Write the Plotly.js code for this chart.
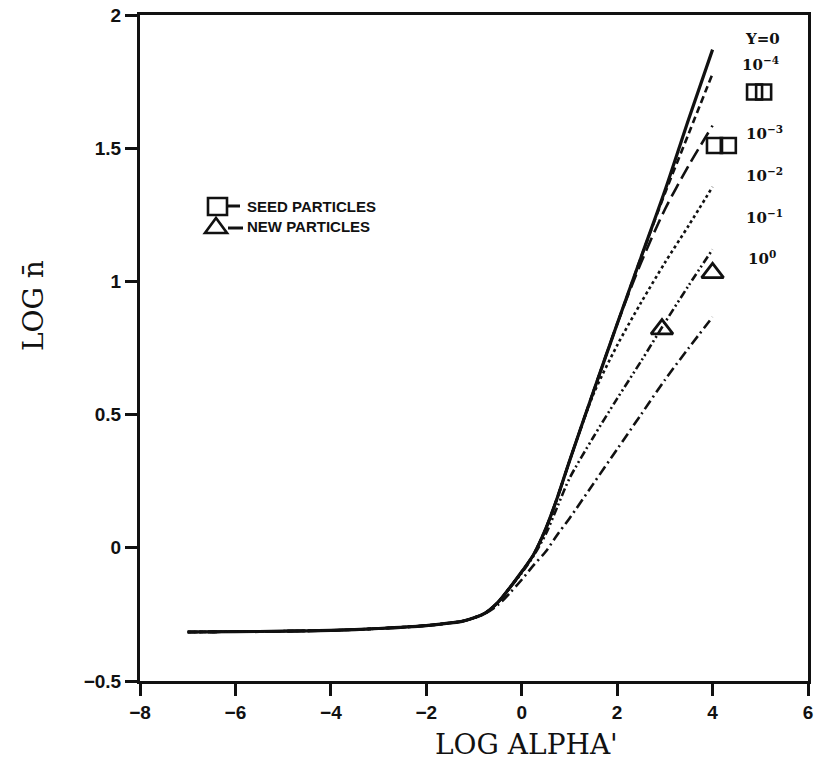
<!DOCTYPE html>
<html>
<head>
<meta charset="utf-8">
<script src="https://cdn.plot.ly/plotly-3.0.1.min.js"></script>
<style>
  html, body { margin: 0; padding: 0; background: #ffffff; }
  #chart { width: 816px; height: 767px; }
</style>
</head>
<body>
<div id="chart"></div>
<script>
// log(alpha') grid shared by every curve
const logAlpha = [-7, -6, -5, -4, -3, -2, -1.5, -1.25, -1, -0.75, -0.5, -0.25, 0, 0.25, 0.5, 0.75, 1, 1.5, 2, 2.5, 3, 3.5, 4];

// log(n-bar) for each Y value
const nY0    = [-0.316, -0.315, -0.313, -0.31, -0.303, -0.292, -0.282, -0.276, -0.263, -0.243, -0.205, -0.15, -0.09, -0.025, 0.07, 0.19, 0.325, 0.585, 0.84, 1.09, 1.34, 1.61, 1.87];
const nY1e4  = [-0.316, -0.315, -0.313, -0.31, -0.303, -0.292, -0.282, -0.276, -0.263, -0.243, -0.205, -0.15, -0.09, -0.025, 0.07, 0.19, 0.325, 0.585, 0.84, 1.09, 1.33, 1.555, 1.78];
const nY1e3  = [-0.316, -0.315, -0.313, -0.31, -0.303, -0.292, -0.282, -0.276, -0.263, -0.243, -0.205, -0.15, -0.09, -0.025, 0.07, 0.19, 0.325, 0.585, 0.84, 1.07, 1.27, 1.435, 1.585];
const nY1e2  = [-0.316, -0.315, -0.313, -0.31, -0.303, -0.292, -0.282, -0.276, -0.263, -0.243, -0.205, -0.15, -0.09, -0.025, 0.07, 0.19, 0.325, 0.575, 0.76, 0.92, 1.07, 1.21, 1.355];
const nY1e1  = [-0.316, -0.315, -0.313, -0.31, -0.303, -0.292, -0.282, -0.276, -0.263, -0.243, -0.205, -0.15, -0.095, -0.03, 0.05, 0.155, 0.26, 0.415, 0.56, 0.70, 0.845, 0.985, 1.12];
const nY1e0  = [-0.316, -0.315, -0.313, -0.31, -0.303, -0.292, -0.282, -0.276, -0.263, -0.245, -0.215, -0.17, -0.12, -0.065, -0.015, 0.05, 0.11, 0.24, 0.37, 0.50, 0.63, 0.75, 0.866];

// measured points
const seedX = [4.04, 4.33, 4.88, 5.07];
const seedY = [1.51, 1.51, 1.711, 1.711];
const newX  = [2.94, 4.0];
const newY  = [0.821, 1.032];

// curve labels on the right
const yLabels = ['Y=0', '10<sup>−4</sup>', '10<sup>−3</sup>', '10<sup>−2</sup>', '10<sup>−1</sup>', '10<sup>0</sup>'];

const xTicks = [-8, -6, -4, -2, 0, 2, 4, 6];
const yTicks = [-0.5, 0, 0.5, 1, 1.5, 2];
const tickText = v => String(v).replace('-', '\u2212');

// plot area geometry in pixels
const L = 140, R = 8, T = 15, B = 86, W = 816, H = 767;
const PW = W - L - R, PH = H - T - B;
const px = v => (v - L) / PW;
const py = v => 1 - (v - T) / PH;

function curve(y, dash, width) {
  return {
    x: logAlpha, y: y, type: 'scatter', mode: 'lines',
    line: { color: '#111', width: width, dash: dash, shape: 'spline', smoothing: 0.8 },
    hoverinfo: 'skip', showlegend: false
  };
}

const traces = [
  curve(nY0, 'solid', 3.2),
  curve(nY1e4, '7px,4px', 2.6),
  curve(nY1e3, '14px,6px', 2.6),
  curve(nY1e2, '3px,3px', 2.6),
  curve(nY1e1, '8px,3px,2px,3px,2px,3px', 2.6),
  curve(nY1e0, '10px,4px,2px,4px', 2.6),
  {
    x: seedX, y: seedY, type: 'scatter', mode: 'markers', showlegend: false, hoverinfo: 'skip',
    marker: { symbol: 'square-open', size: 15, color: '#111', line: { width: 2.6, color: '#111' } }
  },
  {
    x: newX, y: newY, type: 'scatter', mode: 'markers', showlegend: false, hoverinfo: 'skip',
    marker: { symbol: 'triangle-up-open', size: 19, color: '#111', line: { width: 2.8, color: '#111' } }
  }
];

const labelFont = { family: 'DejaVu Serif', size: 15, color: '#111', weight: 'bold' };
const keyFont = { family: 'Liberation Sans', size: 15, color: '#111', weight: 'bold' };
const titleFont = { family: 'DejaVu Serif', size: 28, color: '#111' };

const labelPos = [[762, 39], [760, 64], [764, 133], [764, 175], [764, 217], [762, 258]];
const annotations = yLabels.map((t, i) => ({
  text: t, xref: 'paper', yref: 'paper', x: px(labelPos[i][0]), y: py(labelPos[i][1]),
  xanchor: 'center', yanchor: 'middle', showarrow: false, font: labelFont
}));

// key text
annotations.push(
  { text: 'SEED PARTICLES', xref: 'paper', yref: 'paper', x: px(245), y: py(207), xanchor: 'left', yanchor: 'middle',
    showarrow: false, font: keyFont },
  { text: 'NEW PARTICLES', xref: 'paper', yref: 'paper', x: px(245), y: py(227), xanchor: 'left', yanchor: 'middle',
    showarrow: false, font: keyFont }
);

// axis titles
annotations.push(
  { text: "LOG ALPHA'", xref: 'paper', yref: 'paper', x: px(526), y: py(744), xanchor: 'center', yanchor: 'middle',
    showarrow: false, font: titleFont },
  { text: 'LOG n\u0304', xref: 'paper', yref: 'paper', x: px(33), y: py(305), xanchor: 'center', yanchor: 'middle',
    textangle: -90, showarrow: false, font: titleFont }
);

// key symbols
const shapes = [
  { type: 'rect', xref: 'paper', yref: 'paper', x0: px(208), x1: px(227), y0: py(215), y1: py(198),
    line: { color: '#111', width: 2.6 } },
  { type: 'line', xref: 'paper', yref: 'paper', x0: px(227), x1: px(240), y0: py(206), y1: py(206),
    line: { color: '#111', width: 3 } },
  { type: 'path', xref: 'paper', yref: 'paper',
    path: `M ${px(205)} ${py(233)} L ${px(227)} ${py(233)} L ${px(216)} ${py(218)} Z`,
    line: { color: '#111', width: 2.6 } },
  { type: 'line', xref: 'paper', yref: 'paper', x0: px(228), x1: px(243), y0: py(228), y1: py(228),
    line: { color: '#111', width: 3 } }
];

const axisCommon = {
  showline: true, linecolor: '#111', linewidth: 3, mirror: true,
  ticks: 'outside', ticklen: 12, tickwidth: 2.5, tickcolor: '#111',
  showgrid: false, zeroline: false,
  tickfont: { family: 'Liberation Sans', size: 19, color: '#111', weight: 'bold' }
};

const layout = {
  width: W, height: H,
  font: { family: 'Liberation Sans', size: 15, color: '#111' },
  margin: { l: L, r: R, t: T, b: B },
  paper_bgcolor: '#ffffff', plot_bgcolor: '#ffffff',
  xaxis: Object.assign({}, axisCommon, { range: [-8, 6], tickvals: xTicks, ticktext: xTicks.map(tickText), fixedrange: true }),
  yaxis: Object.assign({}, axisCommon, { range: [-0.5, 2], tickvals: yTicks, ticktext: yTicks.map(tickText), fixedrange: true }),
  annotations: annotations,
  shapes: shapes,
  showlegend: false,
  hovermode: false
};

Plotly.newPlot('chart', traces, layout, { displayModeBar: false });
</script>
</body>
</html>
